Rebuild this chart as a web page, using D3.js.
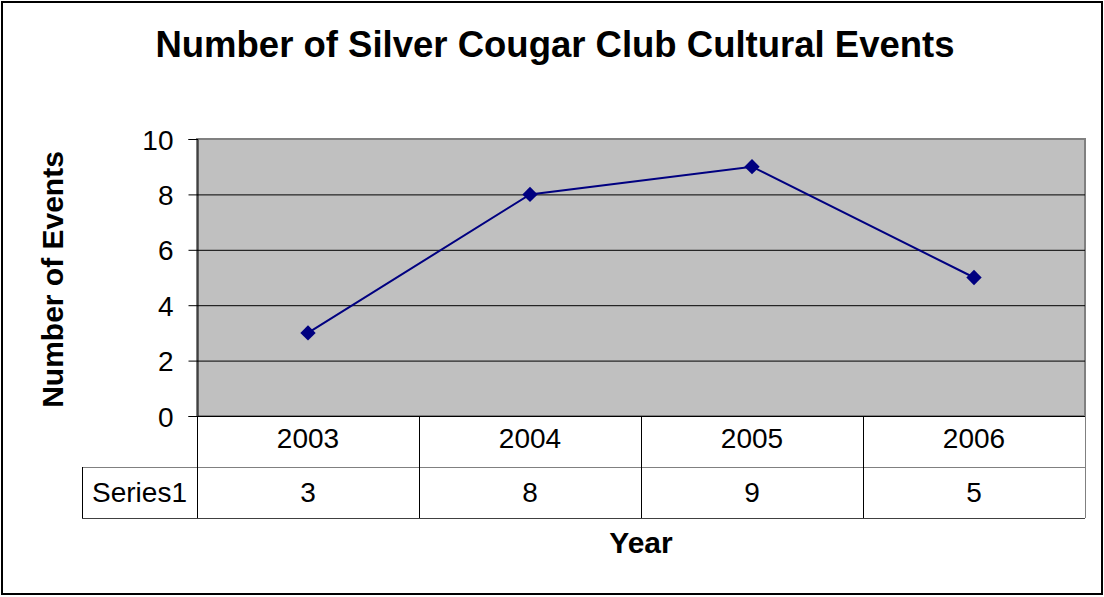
<!DOCTYPE html>
<html>
<head>
<meta charset="utf-8">
<script src="https://cdn.jsdelivr.net/npm/d3@7"></script>
<style>
  body { margin: 0; background: #fff; }
  text { font-family: Arial, "Liberation Sans", sans-serif; fill: #000; }
</style>
</head>
<body>
<svg id="chart"></svg>
<script>
const years = ["2003", "2004", "2005", "2006"];
const series1 = [3, 8, 9, 5];
const seriesName = "Series1";
const yTicks = [0, 2, 4, 6, 8, 10];
const chartTitle = "Number of Silver Cougar Club Cultural Events";
const yTitle = "Number of Events";
const xTitle = "Year";

const W = 1104, H = 597;
const plot = { left: 197, right: 1085, top: 139, bottom: 416 };
const rowH = 51;

const svg = d3.select("#chart").attr("width", W).attr("height", H);

// outer frame
svg.append("rect")
  .attr("x", 2).attr("y", 2)
  .attr("width", W - 4).attr("height", H - 5)
  .attr("fill", "#fff").attr("stroke", "#000").attr("stroke-width", 2);

const xscale = d3.scaleBand().domain(years).range([plot.left, plot.right]);
const yscale = d3.scaleLinear().domain([0, 10]).range([plot.bottom, plot.top]);

// plot area
svg.append("rect")
  .attr("x", plot.left).attr("y", plot.top)
  .attr("width", plot.right - plot.left).attr("height", plot.bottom - plot.top)
  .attr("fill", "#c0c0c0").attr("stroke", "#808080").attr("stroke-width", 2);

// gridlines
svg.append("g")
  .selectAll("line")
  .data(yTicks.filter((d) => d > 0 && d < 10))
  .join("line")
  .attr("x1", plot.left).attr("x2", plot.right)
  .attr("y1", (d) => yscale(d) + 0.5).attr("y2", (d) => yscale(d) + 0.5)
  .attr("stroke", "#000").attr("stroke-width", 1);

// y axis
const yaxis = d3.axisLeft(yscale).tickValues(yTicks).tickSize(9).tickPadding(15);
const g_yaxis = svg.append("g")
  .attr("transform", `translate(${plot.left + 0.5},0)`)
  .call(yaxis);
g_yaxis.select(".domain").attr("stroke", "#000");
g_yaxis.selectAll(".tick line").attr("stroke", "#000");
g_yaxis.selectAll(".tick text")
  .style("font-size", "28px").attr("fill", "#000").attr("dy", "0.36em");
g_yaxis.selectAll("text").style("font-family", "Arial, 'Liberation Sans', sans-serif");

// data table
const table = svg.append("g");
const tableBottom = plot.bottom + rowH * 2;
// horizontal lines
table.append("line")
  .attr("x1", plot.left).attr("x2", plot.right)
  .attr("y1", plot.bottom + 0.5).attr("y2", plot.bottom + 0.5)
  .attr("stroke", "#000");
table.append("line")
  .attr("x1", 82).attr("x2", plot.right)
  .attr("y1", plot.bottom + rowH + 0.5).attr("y2", plot.bottom + rowH + 0.5)
  .attr("stroke", "#808080");
table.append("line")
  .attr("x1", 82).attr("x2", plot.right)
  .attr("y1", tableBottom + 0.5).attr("y2", tableBottom + 0.5)
  .attr("stroke", "#404040");
// vertical lines
const colEdges = years.map((d) => xscale(d)).concat([plot.right]);
table.selectAll("line.col")
  .data(colEdges)
  .join("line")
  .attr("class", "col")
  .attr("x1", (d) => d + 0.5).attr("x2", (d) => d + 0.5)
  .attr("y1", plot.bottom).attr("y2", tableBottom)
  .attr("stroke", (d, i) => (i === colEdges.length - 1 ? "#808080" : "#000"));
table.append("line")
  .attr("x1", 82.5).attr("x2", 82.5)
  .attr("y1", plot.bottom + rowH).attr("y2", tableBottom)
  .attr("stroke", "#000");

table.selectAll("text.year")
  .data(years)
  .join("text")
  .attr("class", "year")
  .attr("x", (d) => xscale(d) + xscale.bandwidth() / 2)
  .attr("y", plot.bottom + 32)
  .attr("text-anchor", "middle")
  .style("font-size", "28px")
  .text((d) => d);

table.selectAll("text.val")
  .data(series1)
  .join("text")
  .attr("class", "val")
  .attr("x", (d, i) => xscale(years[i]) + xscale.bandwidth() / 2)
  .attr("y", plot.bottom + rowH + 35)
  .attr("text-anchor", "middle")
  .style("font-size", "28px")
  .text((d) => d);

table.append("text")
  .attr("x", (82 + plot.left) / 2)
  .attr("y", plot.bottom + rowH + 35)
  .attr("text-anchor", "middle")
  .style("font-size", "28px")
  .text(seriesName);

// line series
const line = d3.line()
  .x((d, i) => xscale(years[i]) + xscale.bandwidth() / 2)
  .y((d) => yscale(d));
svg.append("path")
  .datum(series1)
  .attr("d", line)
  .attr("fill", "none")
  .attr("stroke", "#000080")
  .attr("stroke-width", 2);

const diamond = d3.symbol().type(d3.symbolDiamond2).size(150);
svg.selectAll("path.marker")
  .data(series1)
  .join("path")
  .attr("class", "marker")
  .attr("transform", (d, i) => `translate(${xscale(years[i]) + xscale.bandwidth() / 2},${yscale(d)})`)
  .attr("d", diamond)
  .attr("fill", "#000080");

// titles
svg.append("text")
  .attr("x", 555).attr("y", 57)
  .attr("text-anchor", "middle")
  .style("font-size", "36.5px").style("font-weight", "bold")
  .text(chartTitle);

svg.append("text")
  .attr("x", (plot.left + plot.right) / 2).attr("y", 553)
  .attr("text-anchor", "middle")
  .style("font-size", "30px").style("font-weight", "bold")
  .text(xTitle);

svg.append("text")
  .attr("transform", `translate(63,${(plot.top + plot.bottom) / 2 + 2}) rotate(-90)`)
  .attr("text-anchor", "middle")
  .style("font-size", "30px").style("font-weight", "bold")
  .text(yTitle);
</script>
</body>
</html>
